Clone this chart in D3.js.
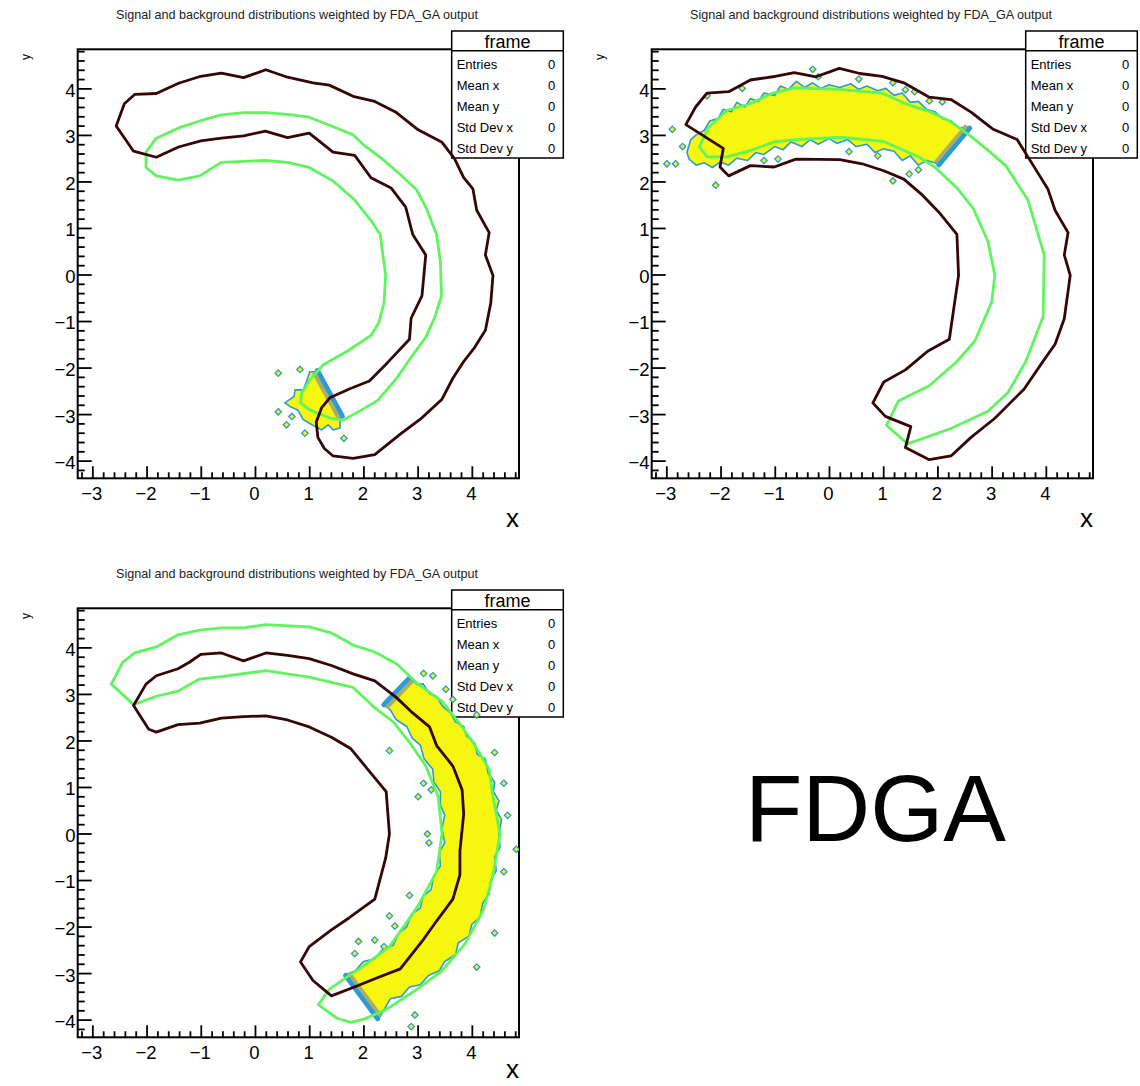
<!DOCTYPE html>
<html>
<head>
<meta charset="utf-8">
<script src="https://cdn.jsdelivr.net/npm/d3@7"></script>
<style>
body { margin: 0; background: #fff; }
svg { display: block; font-family: "Liberation Sans", Arial, sans-serif; }
</style>
</head>
<body>
<svg id="chart" width="1140" height="1086"></svg>
<script>
// axis setup
const xDomain = [-3.27, 4.87];
const yDomain = [-4.38, 4.84];
const xTicks = [-3, -2, -1, 0, 1, 2, 3, 4];
const yTicks = [-4, -3, -2, -1, 0, 1, 2, 3, 4];
const titleText = 'Signal and background distributions weighted by FDA_GA output';
const statNames = ['Entries', 'Mean x', 'Mean y', 'Std Dev x', 'Std Dev y'];
const statValues = [0, 0, 0, 0, 0];
const bigLabel = 'FDGA';

// panel 1 contours (x, y)
const brown1 = [[-2.56,3.19],[-2.41,3.67],[-2.22,3.87],[-1.82,3.89],[-1.41,4.11],[-1.00,4.26],[-0.62,4.33],[-0.21,4.23],[0.20,4.40],[0.60,4.24],[1.07,4.12],[1.37,4.07],[1.81,3.83],[2.21,3.72],[2.61,3.48],[3.01,3.11],[3.45,2.84],[3.68,2.49],[3.85,2.08],[4.02,1.84],[4.09,1.38],[4.32,0.90],[4.25,0.42],[4.39,-0.02],[4.35,-0.61],[4.25,-1.20],[4.05,-1.57],[3.85,-1.87],[3.65,-2.23],[3.45,-2.68],[3.08,-3.08],[2.68,-3.43],[2.21,-3.87],[1.81,-3.95],[1.44,-3.90],[1.28,-3.74],[1.16,-3.50],[1.13,-3.17],[1.23,-2.86],[1.38,-2.65],[1.74,-2.46],[2.11,-2.29],[2.44,-1.90],[2.85,-1.39],[2.88,-0.94],[3.08,-0.46],[3.15,0.42],[2.91,0.86],[2.78,1.45],[2.51,1.86],[2.14,2.08],[1.84,2.56],[1.44,2.63],[1.00,3.04],[0.60,2.94],[0.19,3.08],[-0.21,2.98],[-0.62,2.93],[-1.00,2.87],[-1.41,2.74],[-1.82,2.52],[-2.24,2.65]];
const green1 = [[-2.01,2.63],[-1.82,2.93],[-1.41,3.15],[-1.02,3.30],[-0.62,3.43],[-0.21,3.48],[0.20,3.48],[0.60,3.44],[1.00,3.38],[1.41,3.19],[1.81,3.00],[2.01,2.78],[2.34,2.49],[2.68,2.15],[2.98,1.82],[3.15,1.45],[3.35,0.86],[3.42,0.27],[3.44,-0.46],[3.32,-0.91],[3.15,-1.35],[2.90,-1.75],[2.60,-2.25],[2.27,-2.70],[1.94,-2.93],[1.63,-3.13],[1.37,-3.08],[1.01,-2.91],[0.84,-2.76],[0.86,-2.55],[1.01,-2.27],[1.26,-1.94],[1.70,-1.65],[2.14,-1.31],[2.28,-1.05],[2.38,-0.61],[2.41,-0.02],[2.31,0.86],[2.14,1.16],[1.84,1.60],[1.44,2.01],[1.00,2.30],[0.60,2.41],[0.20,2.45],[-0.21,2.43],[-0.62,2.41],[-1.02,2.12],[-1.42,2.03],[-1.82,2.12],[-2.01,2.30]];
const fill1 = [[1.01,-2.09],[0.95,-2.30],[0.89,-2.48],[0.74,-2.48],[0.72,-2.62],[0.55,-2.76],[0.65,-2.84],[0.79,-2.91],[0.89,-3.12],[1.05,-3.23],[1.23,-3.34],[1.35,-3.23],[1.44,-3.34],[1.57,-3.30],[1.57,-3.07],[1.11,-2.09]];
const cuts1 = [[1.11,-2.09,1.57,-3.07]];
const dots1 = [[0.43,-2.12],[0.83,-2.04],[0.43,-2.95],[0.68,-3.05],[0.58,-3.23],[0.92,-3.41],[1.64,-3.52]];

// panel 2 contours
const brown2 = [[-2.64,3.22],[-2.46,3.60],[-2.25,3.90],[-1.85,3.93],[-1.45,4.18],[-1.04,4.25],[-0.64,4.34],[-0.24,4.25],[0.19,4.43],[0.57,4.32],[0.98,4.26],[1.38,4.12],[1.85,3.81],[2.25,3.76],[2.62,3.49],[3.03,3.12],[3.47,2.90],[3.77,2.34],[4.04,1.83],[4.17,1.38],[4.41,0.90],[4.34,0.42],[4.45,-0.02],[4.34,-0.95],[4.17,-1.50],[3.97,-1.83],[3.60,-2.46],[3.06,-3.09],[2.62,-3.50],[2.25,-3.90],[1.85,-3.98],[1.41,-3.72],[1.51,-3.27],[1.04,-3.05],[0.81,-2.76],[1.01,-2.31],[1.41,-2.05],[1.82,-1.65],[2.22,-1.39],[2.39,-0.02],[2.36,0.86],[2.05,1.31],[1.72,1.71],[1.38,2.05],[1.01,2.23],[0.61,2.38],[0.20,2.47],[-0.61,2.48],[-1.01,2.31],[-1.45,2.34],[-1.85,2.12],[-2.01,2.31],[-1.95,2.71]];
const green2 = [[-2.39,2.75],[-2.22,3.16],[-1.88,3.53],[-1.45,3.67],[-1.04,3.90],[-0.64,4.01],[0.20,3.98],[0.98,3.90],[1.41,3.67],[1.88,3.49],[2.22,3.30],[2.62,2.97],[2.96,2.64],[3.26,2.34],[3.67,1.60],[3.97,0.42],[3.95,-0.91],[3.63,-1.87],[3.30,-2.54],[2.93,-2.94],[2.25,-3.31],[1.45,-3.64],[1.06,-3.24],[1.28,-2.72],[1.85,-2.39],[2.36,-1.87],[2.69,-1.43],[3.00,-0.60],[3.06,-0.02],[2.93,0.72],[2.66,1.42],[2.36,1.86],[1.95,2.31],[1.65,2.53],[1.01,2.86],[0.20,2.95],[-0.61,2.90],[-1.01,2.85],[-1.41,2.68],[-1.88,2.53],[-2.25,2.53]];
const fill2 = [[-2.62,2.62],[-2.55,2.90],[-2.45,3.00],[-2.30,3.10],[-2.20,3.30],[-2.05,3.35],[-1.95,3.55],[-1.80,3.50],[-1.70,3.70],[-1.55,3.60],[-1.45,3.78],[-1.30,3.72],[-1.20,3.90],[-1.00,3.85],[-0.90,4.05],[-0.75,3.98],[-0.60,4.15],[-0.45,4.02],[-0.30,4.12],[-0.15,4.00],[0.00,4.08],[0.20,4.02],[0.40,4.10],[0.55,3.98],[0.70,4.05],[0.90,3.95],[1.05,4.00],[1.20,3.85],[1.35,3.90],[1.50,3.70],[1.65,3.72],[1.80,3.55],[1.95,3.50],[2.10,3.35],[2.25,3.30],[2.40,3.15],[2.56,3.18],[1.99,2.39],[1.80,2.45],[1.65,2.35],[1.50,2.55],[1.35,2.45],[1.20,2.65],[1.00,2.70],[0.85,2.62],[0.70,2.80],[0.50,2.75],[0.35,2.90],[0.15,2.82],[0.00,2.92],[-0.20,2.80],[-0.35,2.90],[-0.50,2.75],[-0.70,2.85],[-0.85,2.68],[-1.00,2.75],[-1.20,2.58],[-1.35,2.62],[-1.50,2.45],[-1.70,2.50],[-1.85,2.35],[-2.00,2.42],[-2.15,2.30],[-2.30,2.40],[-2.45,2.35],[-2.58,2.48]];
const cuts2 = [[1.99,2.39,2.56,3.18]];
const dots2 = [[-0.30,4.41],[-2.89,3.12],[-2.99,2.38],[-2.83,2.38],[-2.09,1.92],[1.18,2.01],[1.48,2.16],[0.37,2.64],[-0.94,2.48],[1.18,4.12],[1.41,3.97],[1.58,3.93],[-2.25,3.84],[1.85,3.73],[2.09,3.71],[-2.70,2.75],[-1.60,4.00],[-0.20,4.25],[0.55,4.20],[-1.20,2.45],[0.90,2.55],[1.65,2.25]];

// panel 3 contours
const brown3 = [[-2.24,2.75],[-2.01,3.21],[-1.82,3.39],[-1.42,3.54],[-1.21,3.68],[-1.00,3.85],[-0.62,3.88],[-0.21,3.71],[0.20,3.88],[0.60,3.83],[1.00,3.76],[1.41,3.61],[1.81,3.43],[2.21,3.28],[2.61,2.92],[2.88,2.62],[3.22,2.29],[3.35,1.89],[3.65,1.45],[3.82,0.94],[3.85,0.42],[3.78,-0.38],[3.78,-0.89],[3.65,-1.41],[3.35,-1.88],[3.08,-2.32],[2.68,-2.91],[2.28,-3.09],[1.81,-3.31],[1.41,-3.49],[1.07,-3.16],[0.84,-2.76],[1.00,-2.43],[1.41,-2.07],[1.74,-1.81],[2.21,-1.41],[2.41,-0.53],[2.48,-0.01],[2.42,0.90],[2.08,1.38],[1.77,1.82],[1.41,2.07],[1.00,2.29],[0.60,2.44],[0.20,2.53],[-0.21,2.51],[-0.62,2.48],[-1.02,2.37],[-1.42,2.34],[-1.82,2.18],[-1.96,2.24]];
const green3 = [[-2.65,3.21],[-2.44,3.68],[-2.22,3.88],[-1.82,4.01],[-1.42,4.27],[-1.02,4.37],[-0.62,4.42],[-0.21,4.42],[0.20,4.49],[1.00,4.44],[1.41,4.31],[1.81,4.05],[2.21,3.90],[2.61,3.65],[3.01,3.21],[3.45,2.84],[3.75,2.40],[4.02,1.96],[4.32,1.38],[4.39,0.79],[4.52,-0.01],[4.39,-0.89],[4.22,-1.63],[3.88,-2.36],[3.45,-2.95],[2.95,-3.38],[2.41,-3.79],[2.01,-3.99],[1.77,-4.06],[1.51,-3.97],[1.17,-3.68],[1.37,-3.35],[1.64,-3.13],[2.01,-2.84],[2.48,-2.43],[2.75,-1.99],[3.01,-1.55],[3.35,-0.82],[3.45,-0.01],[3.38,0.79],[3.15,1.45],[2.85,1.96],[2.55,2.40],[2.21,2.70],[1.81,3.14],[1.41,3.25],[1.00,3.36],[0.20,3.50],[-0.62,3.37],[-1.02,3.32],[-1.42,3.06],[-1.82,2.95],[-2.24,2.77]];
const fill3 = [[2.88,3.30],[3.00,3.20],[3.10,3.22],[3.22,3.00],[3.35,2.95],[3.45,2.75],[3.60,2.60],[3.70,2.40],[3.85,2.30],[3.90,2.10],[4.05,1.95],[4.10,1.70],[4.25,1.60],[4.30,1.30],[4.42,1.10],[4.40,0.90],[4.50,0.70],[4.45,0.50],[4.55,0.30],[4.50,0.00],[4.52,-0.30],[4.42,-0.50],[4.45,-0.80],[4.35,-1.00],[4.32,-1.30],[4.20,-1.50],[4.15,-1.80],[4.00,-1.95],[3.95,-2.20],[3.75,-2.35],[3.70,-2.60],[3.50,-2.75],[3.40,-2.95],[3.20,-3.05],[3.05,-3.25],[2.85,-3.30],[2.70,-3.50],[2.50,-3.55],[2.40,-3.75],[2.30,-3.95],[1.71,-3.02],[1.85,-2.95],[2.00,-2.75],[2.20,-2.70],[2.35,-2.50],[2.55,-2.40],[2.65,-2.15],[2.80,-2.00],[2.88,-1.75],[3.05,-1.60],[3.10,-1.35],[3.25,-1.20],[3.30,-0.90],[3.42,-0.70],[3.40,-0.40],[3.50,-0.20],[3.45,0.10],[3.50,0.40],[3.42,0.60],[3.42,0.90],[3.30,1.10],[3.28,1.38],[3.12,1.60],[3.05,1.90],[2.90,2.05],[2.80,2.30],[2.60,2.45],[2.50,2.65],[2.41,2.73]];
const cuts3 = [[2.41,2.73,2.88,3.30],[1.71,-3.02,2.30,-3.95]];
const dots3 = [[3.11,3.44],[3.28,3.39],[2.48,1.78],[3.11,1.08],[3.01,0.79],[3.18,-0.01],[3.21,-0.20],[4.66,0.39],[4.42,1.74],[4.82,-0.34],[4.59,-0.82],[4.42,-2.14],[4.09,-2.87],[2.95,-3.90],[2.88,-4.15],[1.91,-2.32],[1.84,-2.58],[2.48,-1.77],[2.58,-1.99],[2.21,-2.29],[2.38,-2.43],[2.85,-1.33],[3.25,0.94],[3.52,3.10],[3.65,2.88],[4.59,1.08],[4.09,2.55]];

const panels = [
    { ox: 0,   oy: 0,   green: green1, brown: brown1, fills: [fill1], cuts: cuts1, dots: dots1 },
    { ox: 574, oy: 0,   green: green2, brown: brown2, fills: [fill2], cuts: cuts2, dots: dots2 },
    { ox: 0,   oy: 559, green: green3, brown: brown3, fills: [fill3], cuts: cuts3, dots: dots3 }
];

const YELLOW = '#f6f60e', BLUE = '#2a9bd6', OLIVE = '#a9ad6c', GREEN = '#60f45e', BROWN = '#360606';
const minus = d => d < 0 ? '\u2212' + Math.abs(d) : String(d);

const svg = d3.select('#chart');
svg.append('rect').attr('width', 1140).attr('height', 1086).attr('fill', '#fff');

panels.forEach((p, i) => {
    const x = d3.scaleLinear().domain(xDomain).range([p.ox + 77.7, p.ox + 519]);
    const y = d3.scaleLinear().domain(yDomain).range([p.oy + 478.3, p.oy + 49.3]);
    const g = svg.append('g');

    // title
    g.append('text')
        .attr('x', p.ox + 297).attr('y', p.oy + 19)
        .attr('text-anchor', 'middle').attr('font-size', 12.6).attr('fill', '#222')
        .text(titleText);

    // frame
    g.append('rect')
        .attr('x', x(xDomain[0])).attr('y', y(yDomain[1]))
        .attr('width', x(xDomain[1]) - x(xDomain[0])).attr('height', y(yDomain[0]) - y(yDomain[1]))
        .attr('fill', 'none').attr('stroke', '#000').attr('stroke-width', 2);

    // axes, ticks drawn inside the frame
    const xMinor = d3.range(-16, 25).map(k => k / 5).filter(v => v > xDomain[0] && v < xDomain[1] && !xTicks.includes(v));
    const yMinor = d3.range(-21, 25).map(k => k / 5).filter(v => v > yDomain[0] && v < yDomain[1] && !yTicks.includes(v));

    const xa = g.append('g').attr('transform', `translate(0,${y(yDomain[0])})`)
        .call(d3.axisBottom(x).tickValues(xTicks).tickSize(-12).tickPadding(8.5).tickFormat(minus));
    g.append('g').attr('transform', `translate(0,${y(yDomain[0])})`)
        .call(d3.axisBottom(x).tickValues(xMinor).tickSize(-6).tickFormat(''));
    const ya = g.append('g').attr('transform', `translate(${x(xDomain[0])},0)`)
        .call(d3.axisLeft(y).tickValues(yTicks).tickSize(-14).tickPadding(2.2).tickFormat(minus));
    g.append('g').attr('transform', `translate(${x(xDomain[0])},0)`)
        .call(d3.axisLeft(y).tickValues(yMinor).tickSize(-7).tickFormat(''));
    g.selectAll('.domain').remove();
    g.selectAll('.tick line').attr('stroke', '#000').attr('stroke-width', 1.8);
    g.selectAll('.tick text').attr('font-size', 18.5).attr('font-family', '"Liberation Sans", Arial, sans-serif').attr('fill', '#000');
    ya.selectAll('.tick text').attr('dy', '0.43em');
    xa.selectAll('.tick text').attr('dx', -1);

    // axis titles (kept inside the page for the lower pad)
    g.append('text').attr('x', p.ox + 519).attr('y', Math.min(p.oy + 527, 1078))
        .attr('text-anchor', 'end').attr('font-size', 26).text('x');
    g.append('text').attr('transform', `translate(${p.ox + 30},${p.oy + 57}) rotate(-90)`)
        .attr('text-anchor', 'middle').attr('font-size', 12).text('y');

    // stats box
    const bx = p.ox + 451.7, by = p.oy + 31, bw = 111.6, bh = 127;
    g.append('rect').attr('x', bx).attr('y', by).attr('width', bw).attr('height', bh)
        .attr('fill', '#fff').attr('stroke', '#000').attr('stroke-width', 1.5);
    g.append('line').attr('x1', bx).attr('x2', bx + bw).attr('y1', p.oy + 50.7).attr('y2', p.oy + 50.7)
        .attr('stroke', '#000').attr('stroke-width', 1.5);
    g.append('text').attr('x', bx + bw / 2).attr('y', p.oy + 48).attr('text-anchor', 'middle')
        .attr('font-size', 18).text('frame');
    statNames.forEach((s, k) => {
        g.append('text').attr('x', bx + 5).attr('y', p.oy + 68.7 + k * 21).attr('font-size', 13).text(s);
        g.append('text').attr('x', bx + bw - 8).attr('y', p.oy + 68.7 + k * 21).attr('font-size', 13)
            .attr('text-anchor', 'end').text(statValues[k]);
    });

    // plot contents, clipped to the frame
    const clipId = 'clip' + i;
    svg.append('clipPath').attr('id', clipId).append('rect')
        .attr('x', x(xDomain[0])).attr('y', y(yDomain[1]))
        .attr('width', x(xDomain[1]) - x(xDomain[0])).attr('height', y(yDomain[0]) - y(yDomain[1]));
    const plot = svg.append('g').attr('clip-path', `url(#${clipId})`);
    const closed = d3.line().x(d => x(d[0])).y(d => y(d[1])).curve(d3.curveLinearClosed);

    plot.selectAll('path.fill').data(p.fills).join('path').attr('class', 'fill')
        .attr('d', closed).attr('fill', YELLOW).attr('stroke', BLUE)
        .attr('stroke-width', 1.6).attr('stroke-linejoin', 'round');

    plot.selectAll('path.dot').data(p.dots).join('path').attr('class', 'dot')
        .attr('d', d => {
            const cx = x(d[0]), cy = y(d[1]), r = 3.2;
            return `M${cx},${cy - r}L${cx + r},${cy}L${cx},${cy + r}L${cx - r},${cy}Z`;
        })
        .attr('fill', YELLOW).attr('stroke', BLUE).attr('stroke-width', 1.3);

    // cut edges of the filled region: blue band outside, olive band inside
    const cen = d3.polygonCentroid(p.fills[0].map(d => [x(d[0]), y(d[1])]));
    p.cuts.forEach(c => {
        const x1 = x(c[0]), y1 = y(c[1]), x2 = x(c[2]), y2 = y(c[3]);
        const len = Math.hypot(x2 - x1, y2 - y1);
        let nx = -(y2 - y1) / len, ny = (x2 - x1) / len;
        if (nx * ((x1 + x2) / 2 - cen[0]) + ny * ((y1 + y2) / 2 - cen[1]) < 0) { nx = -nx; ny = -ny; }
        plot.append('line')
            .attr('x1', x1 + nx * 2.5).attr('y1', y1 + ny * 2.5).attr('x2', x2 + nx * 2.5).attr('y2', y2 + ny * 2.5)
            .attr('stroke', BLUE).attr('stroke-width', 5).attr('stroke-linecap', 'round');
        plot.append('line')
            .attr('x1', x1 - nx * 1.5).attr('y1', y1 - ny * 1.5).attr('x2', x2 - nx * 1.5).attr('y2', y2 - ny * 1.5)
            .attr('stroke', OLIVE).attr('stroke-width', 4);
    });

    plot.append('path').datum(p.green).attr('d', closed)
        .attr('fill', 'none').attr('stroke', GREEN).attr('stroke-width', 2.8).attr('stroke-linejoin', 'round');
    plot.append('path').datum(p.brown).attr('d', closed)
        .attr('fill', 'none').attr('stroke', BROWN).attr('stroke-width', 2.8).attr('stroke-linejoin', 'round');
});

svg.append('text').attr('x', 875.5).attr('y', 840.7).attr('text-anchor', 'middle')
    .attr('font-size', 94).attr('fill', '#000').text(bigLabel);
</script>
</body>
</html>
